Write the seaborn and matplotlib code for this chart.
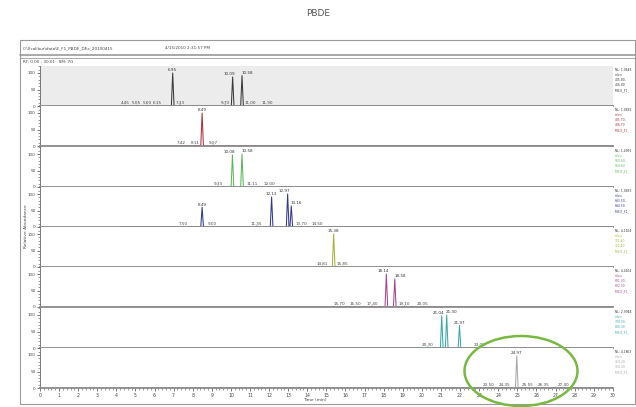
import matplotlib
matplotlib.use("Agg")
import matplotlib.pyplot as plt
from matplotlib.patches import Ellipse, Rectangle
from matplotlib.lines import Line2D
from matplotlib.ticker import MultipleLocator
import numpy as np
import pandas as pd
import seaborn as sns

# ---------------- data ----------------
title = "PBDE"
file_name = "C:\\Xcalibur\\data\\E_F1_PBDE_DEx_20100415"
acq_date = "4/15/2010 2:31:57 PM"
range_text = "RT: 0.00 - 30.01   SM: 7G"
x_label = "Time (min)"
y_label = "Relative Abundance"

trace_start = 4.2
trace_end = 30.0

# main peaks (retention time, relative abundance) per panel
p1_rt = [6.95, 10.09, 10.58]
p1_h = [100, 88, 92]
p2_rt = [8.49]
p2_h = [100]
p3_rt = [10.08, 10.58]
p3_h = [97, 100]
p4_rt = [8.49, 12.13, 12.97, 13.16]
p4_h = [60, 91, 100, 64]
p5_rt = [15.38]
p5_h = [100]
p6_rt = [18.14, 18.58]
p6_h = [100, 85]
p7_rt = [21.04, 21.30, 21.97]
p7_h = [98, 100, 68]
p8_rt = [24.97]
p8_h = [97]

# minor labelled peaks per panel
m1_rt = [4.45, 5.05, 5.60, 6.15, 7.33, 9.70, 11.00, 11.90]
m1_h = [2, 2, 2, 2, 3, 3, 2, 2]
m2_rt = [7.42, 8.11, 9.07]
m2_h = [2, 2, 3]
m3_rt = [9.33, 11.11, 12.00]
m3_h = [3, 2, 2]
m4_rt = [7.50, 9.00, 11.35, 13.70, 14.50]
m4_h = [2, 2, 3, 2, 2]
m5_rt = [14.81, 15.85]
m5_h = [3, 3]
m6_rt = [15.70, 16.50, 17.40, 19.10, 20.05]
m6_h = [2, 2, 3, 3, 2]
m7_rt = [20.30, 23.00]
m7_h = [3, 2]
m8_rt = [23.50, 24.35, 25.55, 26.35, 27.40]
m8_h = [2, 2, 2, 2, 2]

nl_values = ["NL: 1.06E5", "NL: 1.08E5", "NL: 1.49E5", "NL: 1.08E5",
             "NL: 4.11E4", "NL: 4.41E4", "NL: 2.99E4", "NL: 4.18E3"]
mz_values = ["m/z=", "m/z=", "m/z=", "m/z=", "m/z=", "m/z=", "m/z=", "m/z="]
range_lo = ["405.80-", "485.70-", "563.60-", "643.50-",
            "721.40-", "801.30-", "799.30-", "959.20-"]
range_hi = ["406.80", "486.70", "564.60", "644.50",
            "722.40", "802.30", "800.30", "960.20"]
ms_line = "MS E_F1_"

panels = [
    (p1_rt, p1_h, m1_rt, m1_h),
    (p2_rt, p2_h, m2_rt, m2_h),
    (p3_rt, p3_h, m3_rt, m3_h),
    (p4_rt, p4_h, m4_rt, m4_h),
    (p5_rt, p5_h, m5_rt, m5_h),
    (p6_rt, p6_h, m6_rt, m6_h),
    (p7_rt, p7_h, m7_rt, m7_h),
    (p8_rt, p8_h, m8_rt, m8_h),
]

# ---------------- style ----------------
colors = ["#3a3a3a", "#a8323e", "#5cb85c", "#34388a",
          "#a6b23a", "#a4468c", "#3aa8a8", "#a8a8a8"]
baselines = [106, 146, 187, 227, 267, 307, 348, 388]
panel_h = 40
left_px, right_px = 40, 613
W, H = 636, 407

sns.set_style("white")
plt.rcParams["font.family"] = ["DejaVu Sans"]

fig = plt.figure(figsize=(W / 100, H / 100), dpi=100)
fig.patch.set_facecolor("white")


def fx(px):
    return px / W


def fy(py):
    return 1 - py / H


# title
fig.text(fx(318), fy(14), title, ha="center", va="center", fontsize=6.5, color="#555555")

# frame
frame_c = "#9a9a9a"
fig.add_artist(Rectangle((fx(20), fy(404)), fx(635) - fx(20), fy(40) - fy(404),
                         transform=fig.transFigure, fill=False, edgecolor=frame_c, lw=0.8))
for yy, lw in [(55, 1.2), (57.5, 0.6)]:
    fig.add_artist(Line2D([fx(20), fx(635)], [fy(yy), fy(yy)], transform=fig.transFigure,
                          color=frame_c, lw=lw))
fig.text(fx(23), fy(48), file_name, fontsize=3, color="#444444", va="center", ha="left")
fig.text(fx(165), fy(48), acq_date, fontsize=3, color="#444444", va="center", ha="left")
fig.text(fx(23), fy(62), range_text, fontsize=3, color="#444444", va="center", ha="left")

fig.text(fx(26), fy(226), y_label, rotation=90, fontsize=3.2, color="#444444",
         ha="center", va="center")

w = 0.07
wm = 0.05
axes = []
for i, (rt, hh, mrt, mh) in enumerate(panels):
    base = baselines[i]
    top = base - panel_h
    ax = fig.add_axes([fx(left_px), fy(base), fx(right_px) - fx(left_px), panel_h / H])
    ymax = panel_h / 33.0 * 100
    ax.set_xlim(0, 30.01)
    ax.set_ylim(0, ymax)
    ax.set_facecolor("#ececec" if i == 0 else "white")
    for s in ["top", "right"]:
        ax.spines[s].set_visible(False)
    ax.spines["left"].set_color("#666666")
    ax.spines["left"].set_linewidth(0.6)
    ax.spines["bottom"].set_color("#8a8a8a")
    ax.spines["bottom"].set_linewidth(1.3)

    # build trace
    pts = [(trace_start, 0.0), (trace_end, 0.0)]
    for r, v in zip(rt, hh):
        pts += [(r - w, 0.0), (r, v), (r + w, 0.0)]
    for r, v in zip(mrt, mh):
        pts += [(r - wm, 0.0), (r, v), (r + wm, 0.0)]
    pts.sort(key=lambda p: p[0])
    df = pd.DataFrame(pts, columns=["t", "v"])
    sns.lineplot(data=df, x="t", y="v", ax=ax, color=colors[i], linewidth=0.75,
                 estimator=None, sort=False)
    ax.set_xlabel("")
    ax.set_ylabel("")

    # peak labels
    n = len(rt)
    for j, (r, v) in enumerate(zip(rt, hh)):
        ha = "center"
        xr = r
        if j > 0 and r - rt[j - 1] < 0.6:
            ha = "left"
            xr = r - 0.03
        elif j < n - 1 and rt[j + 1] - r < 0.6:
            ha = "right"
            xr = r + 0.12
        ax.text(xr, v + 2, f"{r:.2f}", fontsize=3, ha=ha, va="bottom", color="#333333")
    for r, v in zip(mrt, mh):
        ax.text(r, v + 1.5, f"{r:.2f}", fontsize=3, ha="center", va="bottom", color="#444444")

    # y ticks
    ax.set_yticks([0, 50, 100])
    ax.set_yticklabels(["0", "50", "100"])
    ax.yaxis.set_minor_locator(MultipleLocator(10))
    ax.tick_params(axis="y", which="major", left=True, length=2.5, width=0.5, labelsize=3,
                   pad=0.8, colors="#444444")
    ax.tick_params(axis="y", which="minor", left=True, length=1.3, width=0.4, colors="#555555")

    if i < 7:
        ax.set_xticks([])
        ax.tick_params(axis="x", which="both", bottom=False, labelbottom=False)
    else:
        ax.set_xticks(np.arange(0, 31, 1))
        ax.xaxis.set_minor_locator(MultipleLocator(0.2))
        ax.tick_params(axis="x", which="major", bottom=True, length=2.5, width=0.5, labelsize=3.3,
                       pad=1, colors="#444444")
        ax.tick_params(axis="x", which="minor", bottom=True, length=1.3, width=0.4, colors="#555555")

    # right-side info text
    lines = [nl_values[i], mz_values[i], range_lo[i], range_hi[i], ms_line]
    for k, line in enumerate(lines):
        fig.text(fx(615), fy(top + 4 + k * 5), line, fontsize=2.2,
                 color="#333333" if k == 0 else colors[i], ha="left", va="center")
    axes.append(ax)

fig.text(fx(315), fy(400), x_label, fontsize=3.2, color="#444444", ha="center", va="center")

# highlight ellipse
fig.add_artist(Ellipse((fx(521), fy(371)), width=113 / W, height=70 / H,
                       transform=fig.transFigure, fill=False, edgecolor="#78b843", lw=1.8))

fig.savefig("out.png", dpi=100, facecolor="white")
